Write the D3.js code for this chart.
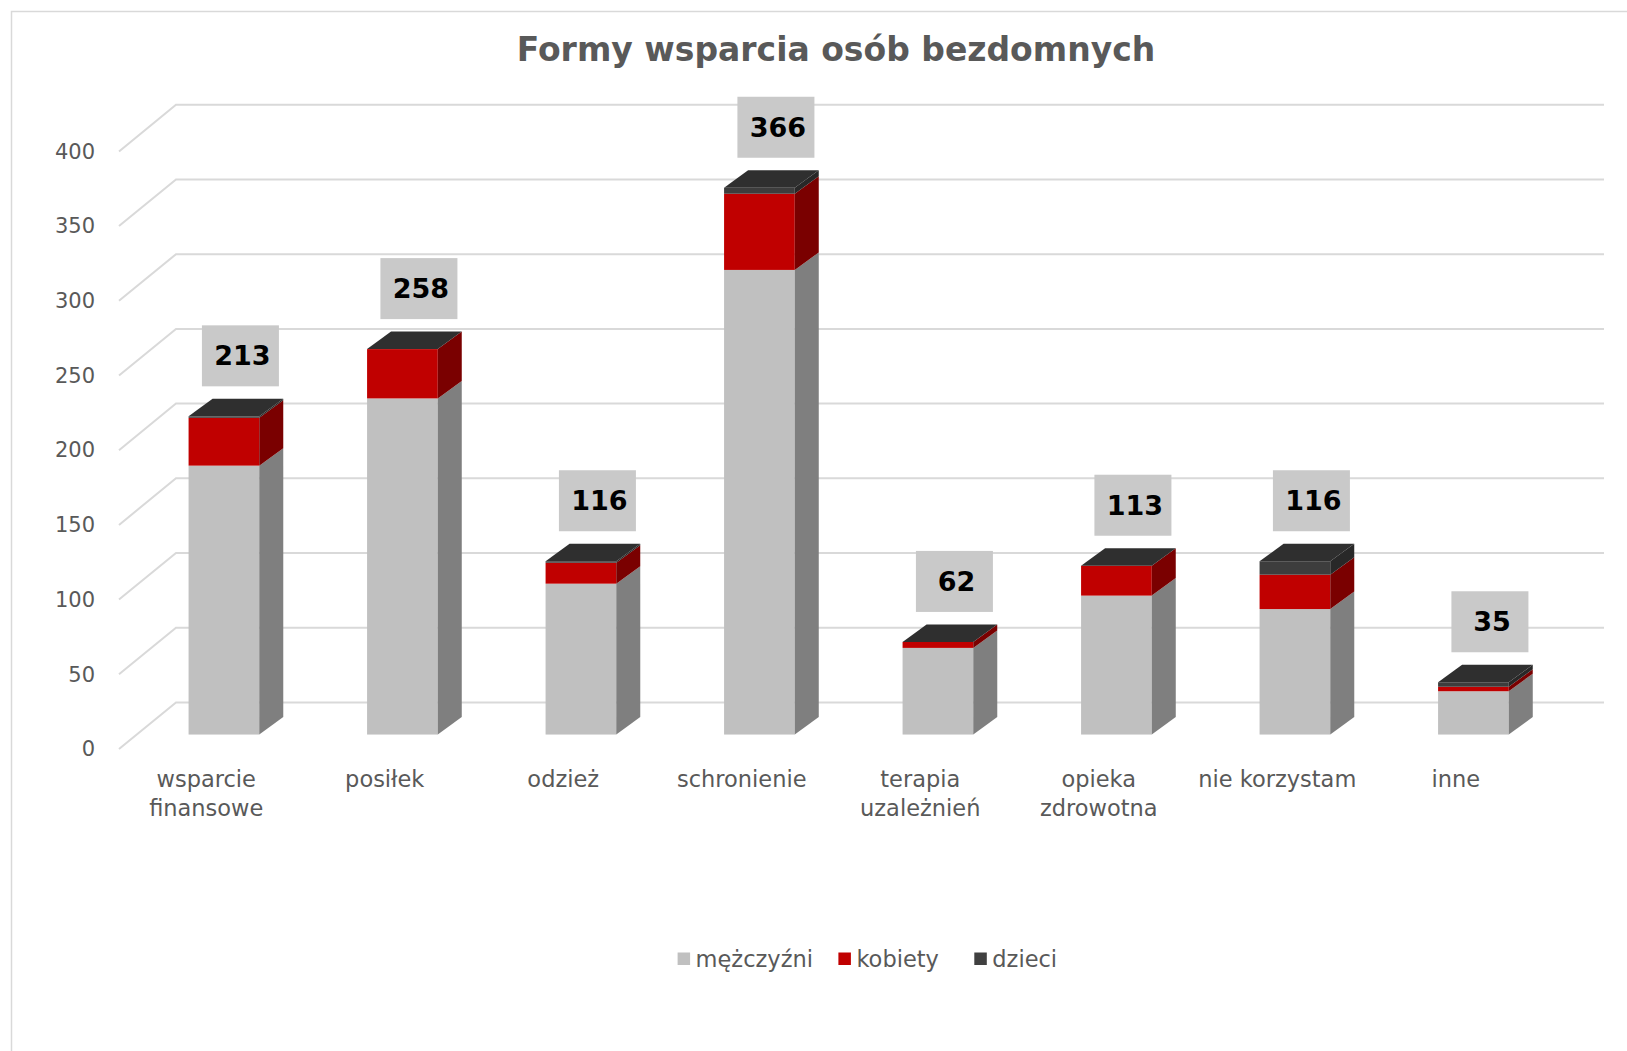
<!DOCTYPE html>
<html><head><meta charset="utf-8">
<script src="https://cdn.jsdelivr.net/npm/d3@7"></script>
<style>
html,body{margin:0;padding:0;background:#fff;}
svg{display:block;font-family:"DejaVu Sans",sans-serif;}
</style></head>
<body>
<svg id="chart" width="1627" height="1051"></svg>
<script>
const title = "Formy wsparcia osób bezdomnych";
const categories = ["wsparcie finansowe","posiłek","odzież","schronienie","terapia uzależnień","opieka zdrowotna","nie korzystam","inne"];
const categoryLines = [["wsparcie","finansowe"],["posiłek"],["odzież"],["schronienie"],["terapia","uzależnień"],["opieka","zdrowotna"],["nie korzystam"],["inne"]];
const seriesNames = ["mężczyźni","kobiety","dzieci"];
const men      = [180,225,101,311,58,93,84,29];
const women    = [32,33,14,51,4,20,23,3];
const children = [1,0,1,4,0,0,9,3];
const yTicks = [0,50,100,150,200,250,300,350,400];

const frontColors = ["#c0c0c0","#c00000","#3d3d3d"];
const sideColors  = ["#7f7f7f","#7a0000","#282828"];
const legendColors = ["#c0c0c0","#c00000","#404040"];
const topColor = "#2f2f2f";

const svg = d3.select("#chart");

// chart border
svg.append("rect").attr("x",11.5).attr("y",11.5).attr("width",1700).attr("height",1100)
  .attr("fill","none").attr("stroke","#d9d9d9").attr("stroke-width",1.5);

// geometry
const floorX0 = 119, floorY0 = 749, floorX1 = 1547;
const depth = {dx:57, dy:-46.6};
const frac = 0.31;
const barOff = {dx: depth.dx*frac, dy: depth.dy*frac};
const barDepth = {dx:24, dy:-17.5};
const pxPerUnit = 1.494;

const yF = d3.scaleLinear().domain([0,400]).range([floorY0, floorY0 - 400*pxPerUnit]);
const yB = d3.scaleLinear().domain([0,400]).range([floorY0 + barOff.dy, floorY0 + barOff.dy - 400*pxPerUnit]);
const x = d3.scaleBand().domain(categories)
  .range([floorX0 + barOff.dx - 2, floorX1 + barOff.dx - 2]).paddingInner(0.604).paddingOuter(0.302);

// gridlines
const grid = svg.append("g");
yTicks.forEach(v => {
  const y0 = yF(v);
  grid.append("path")
    .attr("d", `M${floorX0},${y0} L${floorX0+depth.dx},${y0+depth.dy} L1604,${y0+depth.dy}`)
    .attr("fill","none").attr("stroke","#d9d9d9").attr("stroke-width",2);
});

// y axis labels
const yAxis = svg.append("g").attr("transform",`translate(${floorX0},0)`)
  .call(d3.axisLeft(yF).tickValues(yTicks).tickSize(0).tickPadding(24));
yAxis.select(".domain").remove();
yAxis.selectAll("text").attr("fill","#595959").style("font-size","21px")
  .style("font-family","'DejaVu Sans',sans-serif");

// stacked data
const rows = categories.map((c,i)=>({cat:c, mężczyźni:men[i], kobiety:women[i], dzieci:children[i]}));
const stack = d3.stack().keys(seriesNames)(rows);

const bars = svg.append("g");
categories.forEach((c,i) => {
  const x0 = x(c), x1 = x0 + x.bandwidth();
  stack.forEach((layer,k) => {
    const d = layer[i];
    const yb = yB(d[0]), yt = yB(d[1]);
    if (d[1]-d[0] <= 0) return;
    bars.append("rect").attr("x",x0).attr("y",yt).attr("width",x1-x0).attr("height",yb-yt)
      .attr("fill",frontColors[k]);
    bars.append("path")
      .attr("d",`M${x1},${yb} L${x1+barDepth.dx},${yb+barDepth.dy} L${x1+barDepth.dx},${yt+barDepth.dy} L${x1},${yt} Z`)
      .attr("fill",sideColors[k]);
  });
  const total = men[i]+women[i]+children[i];
  const yt = yB(total);
  bars.append("path")
    .attr("d",`M${x0},${yt} L${x0+barDepth.dx},${yt+barDepth.dy} L${x1+barDepth.dx},${yt+barDepth.dy} L${x1},${yt} Z`)
    .attr("fill",topColor);
});

// data labels
const labels = svg.append("g");
categories.forEach((c,i) => {
  const total = men[i]+women[i]+children[i];
  const cx = x(c) + x.bandwidth()/2 + 16.5;
  const yb = yB(total) - 30;
  labels.append("rect").attr("x",cx-38.5).attr("y",yb-61).attr("width",77).attr("height",61).attr("fill","#c9c9c9");
  labels.append("text").attr("x",cx+2).attr("y",yb-30.5).attr("dy","0.35em").attr("text-anchor","middle")
    .style("font-size","27px").style("font-weight","bold").attr("fill","#000").text(total);
});

// category labels
const cl = svg.append("g");
categories.forEach((c,i) => {
  const cx = x(c) + x.bandwidth()/2 - barOff.dx;
  categoryLines[i].forEach((ln,j) => {
    cl.append("text").attr("x",cx).attr("y",779 + j*29).attr("dy","0.35em").attr("text-anchor","middle")
      .style("font-size","22.5px").attr("fill","#595959").text(ln);
  });
});

// title
svg.append("text").attr("x",836).attr("y",49).attr("dy","0.35em").attr("text-anchor","middle")
  .style("font-size","33px").style("font-weight","bold").attr("fill","#595959").text(title);

// legend
const legendX = [677.6, 838.4, 974.3];
const lg = svg.append("g");
seriesNames.forEach((s,k) => {
  lg.append("rect").attr("x",legendX[k]).attr("y",952.5).attr("width",12.5).attr("height",12.5).attr("fill",legendColors[k]);
  lg.append("text").attr("x",legendX[k]+18).attr("y",959).attr("dy","0.35em")
    .style("font-size","22.5px").attr("fill","#595959").text(s);
});
</script>
</body></html>
